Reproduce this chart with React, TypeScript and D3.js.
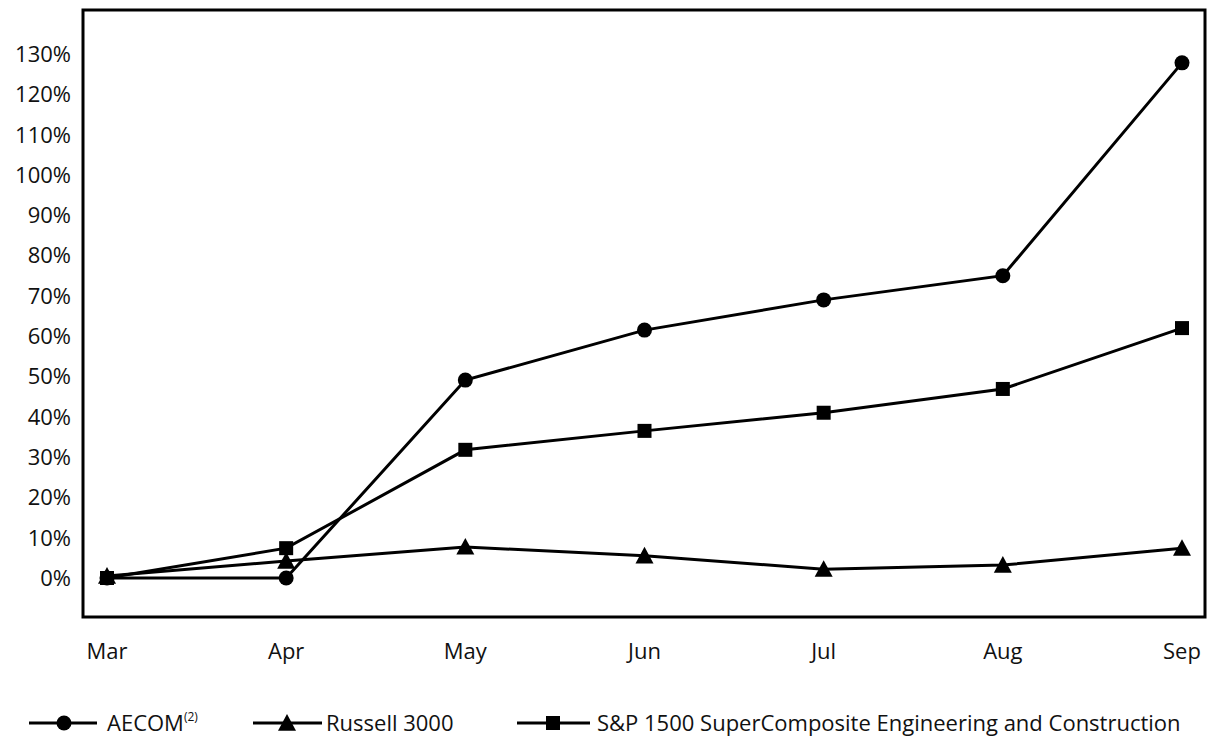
import React from "react";
import * as d3 from "d3";

const months = ["Mar", "Apr", "May", "Jun", "Jul", "Aug", "Sep"];
const aecom = [0, 0, 49.1, 61.5, 69, 75, 127.8];
const russell = [0.5, 4.2, 7.7, 5.5, 2.2, 3.2, 7.4];
const sp1500 = [0, 7.4, 31.8, 36.5, 41, 46.9, 62];
const yTicks = [0, 10, 20, 30, 40, 50, 60, 70, 80, 90, 100, 110, 120, 130];

const W = 1231;
const H = 740;
const frame = { left: 83, top: 10, right: 1205, bottom: 617 };
const FONT = "'Open Sans', 'Noto Sans', sans-serif";
const FS = 22;

const x = d3.scalePoint<string>().domain(months).range([107, 1182]);
const y = d3.scaleLinear().domain([0, 130]).range([578, 54]);

const lineGen = d3
  .line<number>()
  .x((_, i) => x(months[i]) as number)
  .y((d) => y(d));

type Shape = "circle" | "triangle" | "square";

function Marker({ cx, cy, shape }: { cx: number; cy: number; shape: Shape }) {
  if (shape === "circle") return <circle cx={cx} cy={cy} r={7.5} fill="#000" />;
  if (shape === "square")
    return <rect x={cx - 7} y={cy - 7} width={14} height={14} fill="#000" />;
  const s = 9;
  return (
    <polygon
      points={`${cx},${cy - s} ${cx - s},${cy + s * 0.85} ${cx + s},${cy + s * 0.85}`}
      fill="#000"
    />
  );
}

const series: { name: string; values: number[]; shape: Shape }[] = [
  { name: "Russell 3000", values: russell, shape: "triangle" },
  { name: "S&P 1500 SuperComposite Engineering and Construction", values: sp1500, shape: "square" },
  { name: "AECOM", values: aecom, shape: "circle" },
];

export default function App() {
  return (
    <svg
      width={W}
      height={H}
      style={{ position: "absolute", left: 0, top: 0, background: "#fff" }}
      fontFamily={FONT}
    >
      <rect x={0} y={0} width={W} height={H} fill="#fff" />
      <rect
        x={frame.left}
        y={frame.top}
        width={frame.right - frame.left}
        height={frame.bottom - frame.top}
        fill="none"
        stroke="#000"
        strokeWidth={3}
      />
      {yTicks.map((t) => (
        <text
          key={t}
          x={71}
          y={y(t)}
          dy="0.36em"
          textAnchor="end"
          fontSize={FS}
          fill="#111"
        >
          {t}%
        </text>
      ))}
      {months.map((m) => (
        <text
          key={m}
          x={x(m) as number}
          y={659}
          textAnchor="middle"
          fontSize={FS}
          fill="#111"
        >
          {m}
        </text>
      ))}
      {series.map((s) => (
        <g key={s.name}>
          <path d={lineGen(s.values) || ""} fill="none" stroke="#000" strokeWidth={3} />
          {s.values.map((v, i) => (
            <Marker key={i} cx={x(months[i]) as number} cy={y(v)} shape={s.shape} />
          ))}
        </g>
      ))}
      {/* Legend */}
      <g>
        <line x1={29} x2={97} y1={723} y2={723} stroke="#000" strokeWidth={3} />
        <Marker cx={64} cy={723} shape="circle" />
        <text x={107} y={731} fontSize={FS} fill="#111">
          AECOM
          <tspan fontSize={12} dy={-10}>(2)</tspan>
        </text>
        <line x1={253} x2={322} y1={723} y2={723} stroke="#000" strokeWidth={3} />
        <Marker cx={287} cy={723} shape="triangle" />
        <text x={326} y={731} fontSize={FS} fill="#111">
          Russell 3000
        </text>
        <line x1={517} x2={590} y1={723} y2={723} stroke="#000" strokeWidth={3} />
        <Marker cx={553} cy={723} shape="square" />
        <text x={597} y={731} fontSize={FS} fill="#111">
          S&amp;P 1500 SuperComposite Engineering and Construction
        </text>
      </g>
    </svg>
  );
}
